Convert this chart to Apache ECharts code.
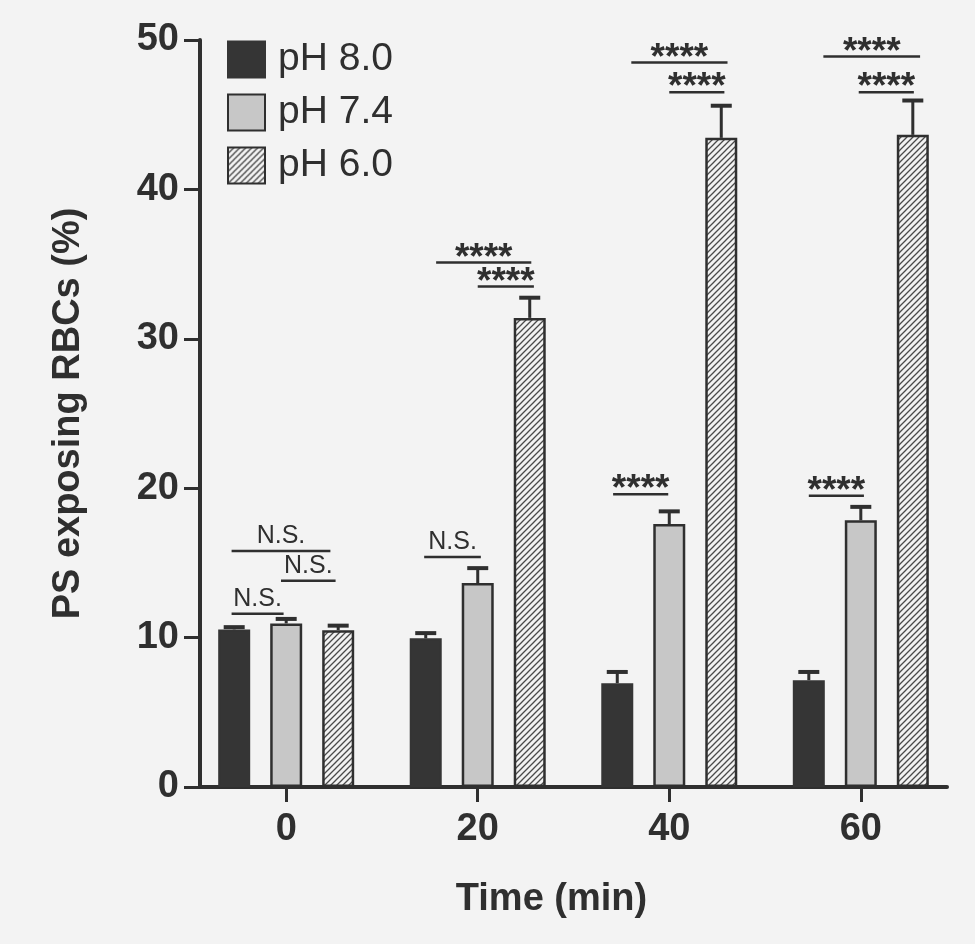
<!DOCTYPE html>
<html><head><meta charset="utf-8">
<script src="https://cdn.jsdelivr.net/npm/echarts@6/dist/echarts.min.js"></script>
<style>html,body{margin:0;padding:0;background:#f3f3f3}#c{width:975px;height:944px}</style>
</head><body><div id="c"></div>
<script>
// ---- data ----
const times = [0, 20, 40, 60];
const seriesNames = ['pH 8.0', 'pH 7.4', 'pH 6.0'];
const ph80 = [10.55, 9.95, 6.95, 7.15];
const ph74 = [10.95, 13.65, 17.6, 17.85];
const ph60 = [10.5, 31.4, 43.45, 43.65];
const err80 = [0.15, 0.35, 0.75, 0.55];
const err74 = [0.3, 1.0, 0.85, 0.9];
const err60 = [0.3, 1.35, 2.15, 2.3];
const yTickLabels = ['0', '10', '20', '30', '40', '50'];
// significance brackets: time group, from/to bar slot (-1,0,1), height, label
const sigTime  = [0, 0, 0, 20, 20, 20, 40, 40, 40, 60, 60, 60];
const sigFrom  = [-1.05, -0.1, -1.05, -0.8, 0, -1.03, -0.73, 0, -1.08, -0.72, -0.04, -1.0];
const sigTo    = [0.85, 0.95, -0.05, 1.03, 1.08, 0.06, 1.12, 1.06, -0.02, 1.14, 1.02, 0.06];
const sigY     = [15.8, 13.8, 11.6, 35.1, 33.5, 15.4, 48.5, 46.5, 19.6, 48.9, 46.5, 19.5];
const sigLabel = ['N.S.', 'N.S.', 'N.S.', '****', '****', 'N.S.', '****', '****', '****', '****', '****', '****'];

// ---- style constants ----
const INK = '#2f2f2f';
const BAR_W = 32;
const BAR_GAP = 0.625;
const PITCH = BAR_W * (1 + BAR_GAP);
const CAP = 21;
const FONT = '"Liberation Sans", Arial, sans-serif';

function hatchPattern() {
  const s = 6;
  const c = document.createElement('canvas');
  c.width = s; c.height = s;
  const g = c.getContext('2d');
  g.fillStyle = '#f2f2f2'; g.fillRect(0, 0, s, s);
  g.strokeStyle = '#4a4a4a'; g.lineWidth = 1.3;
  g.beginPath();
  g.moveTo(0, s); g.lineTo(s, 0);
  g.moveTo(-s, s); g.lineTo(s, -s);
  g.moveTo(0, 2 * s); g.lineTo(2 * s, 0);
  g.stroke();
  return c;
}

const chart = echarts.init(document.getElementById('c'), null, {renderer: 'canvas'});

function barData(vals) { return times.map((t, i) => [t, vals[i]]); }
function errData(vals, errs) { return times.map((t, i) => [t, vals[i], errs[i]]); }

function errSeries(vals, errs, slot) {
  return {
    type: 'custom', silent: true, z: 5,
    data: errData(vals, errs),
    encode: {x: 0, y: 1},
    renderItem: function (params, api) {
      const t = api.value(0), v = api.value(1), e = api.value(2);
      const b = api.coord([t, v]);
      const tp = api.coord([t, v + e]);
      const x = b[0] + slot * PITCH;
      return {type: 'group', children: [
        {type: 'line', shape: {x1: x, y1: b[1], x2: x, y2: tp[1]}, style: {stroke: INK, lineWidth: 3}},
        {type: 'line', shape: {x1: x - CAP / 2, y1: tp[1], x2: x + CAP / 2, y2: tp[1]}, style: {stroke: INK, lineWidth: 4}}
      ]};
    }
  };
}

const sigData = sigTime.map((t, i) => [t, sigY[i], sigFrom[i], sigTo[i], i]);

const option = {
  backgroundColor: '#f3f3f3',
  animation: false,
  grid: {left: 200, right: 28, top: 40, bottom: 157},
  legend: {
    orient: 'vertical', left: 222, top: 35,
    itemWidth: 37, itemHeight: 36, itemGap: 14,
    icon: 'rect',
    data: seriesNames,
    textStyle: {fontSize: 39, color: INK, fontFamily: FONT, padding: [0, 0, 0, 8]}
  },
  xAxis: {
    type: 'value', min: -9, max: 69,
    name: 'Time (min)', nameLocation: 'middle', nameGap: 94,
    nameTextStyle: {fontSize: 38, fontWeight: 'bold', color: INK, fontFamily: FONT, padding: [0, 44, 0, 0]},
    axisLine: {onZero: false, lineStyle: {color: INK, width: 4}},
    axisTick: {customValues: times, length: 15, lineStyle: {color: INK, width: 3}},
    axisLabel: {customValues: times, margin: 24, fontSize: 38, fontWeight: 'bold', color: INK, fontFamily: FONT},
    splitLine: {show: false}
  },
  yAxis: {
    type: 'value', min: 0, max: 50, interval: 10,
    name: 'PS exposing RBCs (%)', nameLocation: 'middle', nameGap: 112,
    nameTextStyle: {fontSize: 38, fontWeight: 'bold', color: INK, fontFamily: FONT},
    axisLine: {show: true, onZero: false, lineStyle: {color: INK, width: 4}},
    axisTick: {show: true, length: 16, lineStyle: {color: INK, width: 3}},
    axisLabel: {margin: 21, fontSize: 38, fontWeight: 'bold', color: INK, fontFamily: FONT,
      formatter: function (v) { return yTickLabels[Math.round(v / 10)]; }},
    splitLine: {show: false}
  },
  series: [
    {type: 'bar', name: seriesNames[0], data: barData(ph80), barWidth: BAR_W, barGap: (BAR_GAP * 100) + '%',
      itemStyle: {color: '#353535', borderColor: '#353535', borderWidth: 2}},
    {type: 'bar', name: seriesNames[1], data: barData(ph74), barWidth: BAR_W, barGap: (BAR_GAP * 100) + '%',
      itemStyle: {color: '#c7c7c7', borderColor: INK, borderWidth: 2.5}},
    {type: 'bar', name: seriesNames[2], data: barData(ph60), barWidth: BAR_W, barGap: (BAR_GAP * 100) + '%',
      itemStyle: {color: {image: hatchPattern(), repeat: 'repeat'}, borderColor: INK, borderWidth: 2.5}},
    errSeries(ph80, err80, -1),
    errSeries(ph74, err74, 0),
    errSeries(ph60, err60, 1),
    {
      type: 'custom', silent: true, z: 6,
      data: sigData,
      encode: {x: 0, y: 1},
      renderItem: function (params, api) {
        const t = api.value(0), y = api.value(1), f = api.value(2), to = api.value(3), idx = api.value(4);
        const p = api.coord([t, y]);
        const x1 = p[0] + f * PITCH, x2 = p[0] + to * PITCH;
        const lab = sigLabel[idx];
        const stars = lab.indexOf('*') >= 0;
        return {type: 'group', children: [
          {type: 'line', shape: {x1: x1, y1: p[1], x2: x2, y2: p[1]}, style: {stroke: INK, lineWidth: 2.5}},
          {type: 'text', x: (x1 + x2) / 2, y: stars ? p[1] - 4 : p[1] - 2,
            style: {text: lab, fill: INK, align: 'center', verticalAlign: stars ? 'middle' : 'bottom',
              font: (stars ? 'bold 37px ' : '25px ') + FONT}}
        ]};
      }
    }
  ]
};
chart.setOption(option);
</script>
</body></html>
